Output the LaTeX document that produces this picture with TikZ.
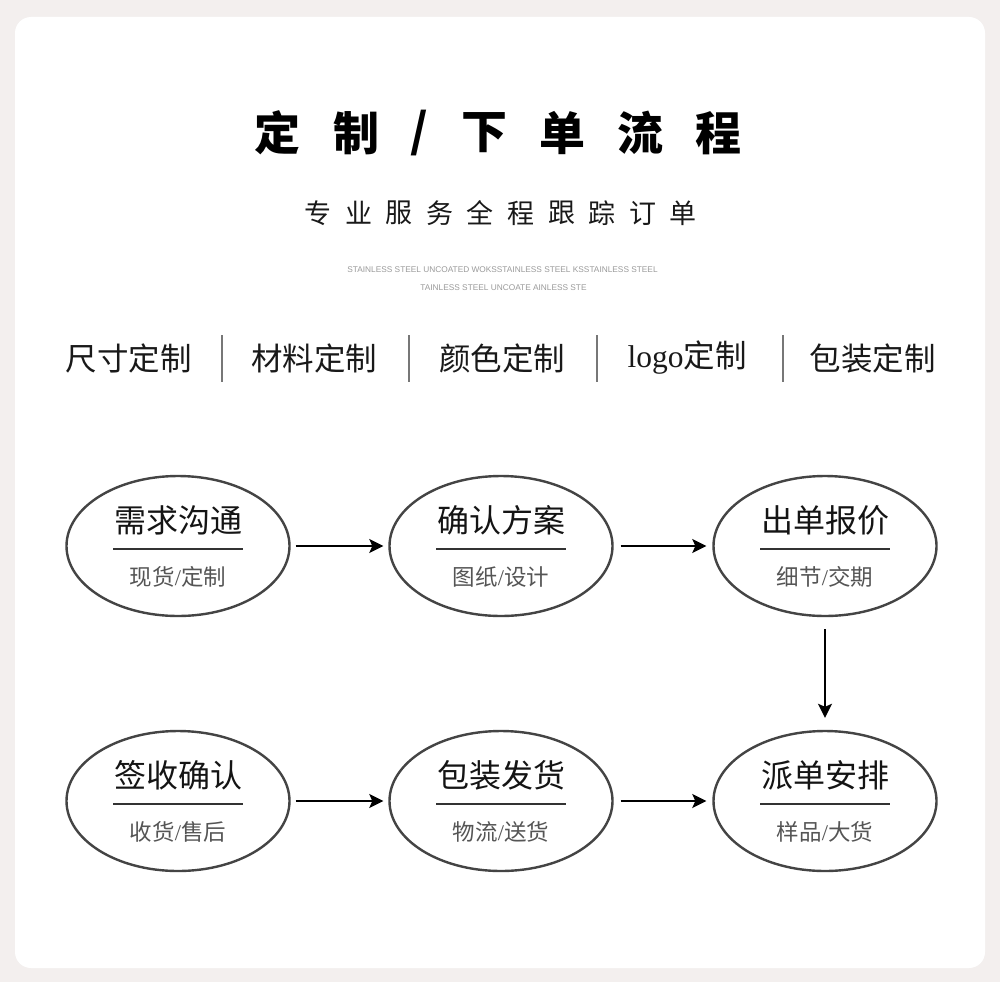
\documentclass[tikz,border=0pt]{standalone}
\usepackage{fontspec}
\setmainfont{Liberation Serif}
\newfontfamily\cjk{Noto Sans CJK SC}
\newfontfamily\lat{Liberation Sans}
\usetikzlibrary{shapes.geometric,arrows.meta}
\definecolor{bgc}{HTML}{F3EFEE}
\definecolor{ellc}{HTML}{444444}
\definecolor{subc}{HTML}{555555}
\definecolor{tinyc}{HTML}{9A9A9A}
\definecolor{sepc}{HTML}{777777}
\begin{document}
\begin{tikzpicture}[x=1pt,y=-1pt,
  ell/.style={draw=ellc,line width=2.4pt,ellipse,minimum width=223pt,minimum height=140pt,inner sep=0pt},
  ttl/.style={font=\cjk\bfseries\fontsize{46}{48}\selectfont,text=black,inner sep=0pt},
  subttl/.style={font=\cjk\fontsize{27}{29}\selectfont,text=black!90,inner sep=0pt},
  tiny/.style={font=\lat\fontsize{8.3}{9}\selectfont,text=tinyc,inner sep=0pt},
  cat/.style={font=\cjk\fontsize{31.5}{33}\selectfont,text=black!90,inner sep=0pt},
  sep/.style={draw=sepc,line width=1.2pt},
  etitle/.style={font=\cjk\fontsize{32}{34}\selectfont,text=black!92,inner sep=0pt},
  esub/.style={font=\cjk\fontsize{22.5}{24}\selectfont,text=subc,inner sep=0pt},
  eline/.style={draw=black!80,line width=1.5pt},
  arr/.style={draw=black,line width=2pt,-{Stealth[length=14pt,width=14pt,inset=3pt]}}]
\useasboundingbox (0,0) rectangle (1000,982);
\fill[bgc] (0,0) rectangle (1000,982);
\fill[white,rounded corners=16pt] (15,17) rectangle (985,968);
% title
\foreach \c/\x [count=\i] in {定/277,制/356,下/484,单/562,流/640,程/718}{
  \node[ttl] (t\i) at (\x,133) {\c};
}
\node[ttl] (tslash) at (419,133) {\textbf{/}};
% subtitle
\foreach \c [count=\i] in {专,业,服,务,全,程,跟,踪,订,单}{
  \node[subttl] (s\i) at ({318+(\i-1)*40.6},213) {\c};
}
\node[tiny] (en1) at (502.5,270) {STAINLESS STEEL UNCOATED WOKSSTAINLESS STEEL KSSTAINLESS STEEL};
\node[tiny] (en2) at (503.5,288) {TAINLESS STEEL UNCOATE AINLESS STE};
% categories
\node[cat] (c1) at (128.5,358) {尺寸定制};
\node[cat] (c2) at (314,358) {材料定制};
\node[cat] (c3) at (502,358) {颜色定制};
\node[cat] (c4) at (687,358) {{\rmfamily logo}定制};
\node[cat] (c5) at (872.5,358) {包装定制};
\foreach \x [count=\i] in {222,409,597,783}{
  \coordinate (sa\i) at (\x,335);
  \coordinate (sb\i) at (\x,382);
  \draw[sep] (sa\i) -- (sb\i);
}
% ellipses
\foreach \n/\cx/\cy/\a/\b in {
  e1/178/546/需求沟通/现货{\rmfamily/}定制,
  e2/501/546/确认方案/图纸{\rmfamily/}设计,
  e3/825/546/出单报价/细节{\rmfamily/}交期,
  e4/178/801/签收确认/收货{\rmfamily/}售后,
  e5/501/801/包装发货/物流{\rmfamily/}送货,
  e6/825/801/派单安排/样品{\rmfamily/}大货}{
  \node[ell] (\n) at (\cx,\cy) {};
  \node[etitle] (\n t) at (\cx,\cy-26) {\a};
  \coordinate (\n la) at (\cx-65,\cy+3);
  \coordinate (\n lb) at (\cx+65,\cy+3);
  \draw[eline] (\n la) -- (\n lb);
  \node[esub] (\n s) at (\cx,\cy+31) {\b};
}
\draw[arr,shorten <=5pt,shorten >=5pt] (e1) -- (e2);
\draw[arr,shorten <=7pt,shorten >=6pt] (e2) -- (e3);
\draw[arr,shorten <=12pt,shorten >=12pt] (e3) -- (e6);
\draw[arr,shorten <=5pt,shorten >=5pt] (e4) -- (e5);
\draw[arr,shorten <=7pt,shorten >=6pt] (e5) -- (e6);
\end{tikzpicture}
\end{document}
